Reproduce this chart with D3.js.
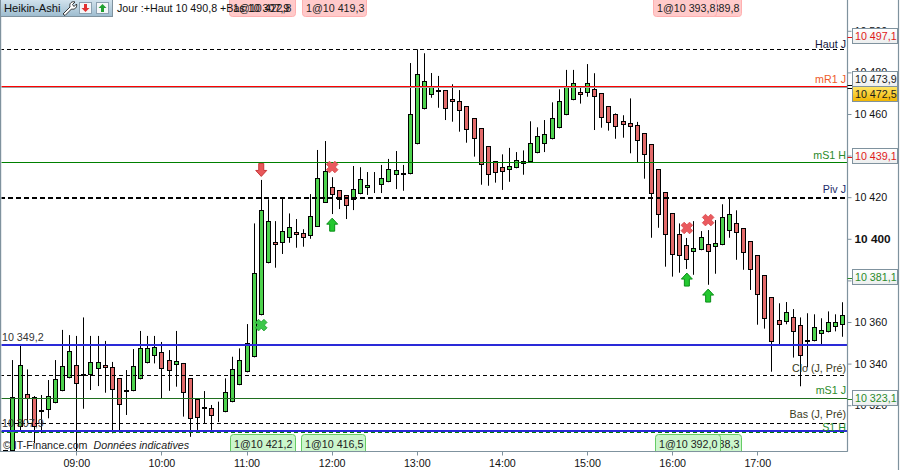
<!DOCTYPE html>
<html><head><meta charset="utf-8">
<script src="https://cdn.jsdelivr.net/npm/d3@7"></script>
<style>html,body{margin:0;padding:0;background:#fff}svg{display:block}text{font-family:"Liberation Sans",Arial,sans-serif}</style>
</head><body><div id="c"></div>
<script>
const startMinute = 490, stepMinutes = 5;
const opens = [10298.5,10298.1,10309.7,10325.2,10324.1,10317.5,10317.5,10320.9,10326.7,10332.9,10339.2,10334.8,10334.4,10337.5,10339.2,10338.2,10332.9,10326.2,10326.7,10332.4,10340.1,10343.5,10345.4,10341.6,10339.2,10340.1,10332.9,10322.8,10318.9,10318.5,10317.0,10316.6,10321.4,10329.6,10335.8,10343.0,10363.2,10388.2,10398.3,10397.8,10400.5,10403.1,10402.6,10401.5,10405.8,10417.3,10424.9,10423.3,10420.9,10418.5,10421.4,10424.6,10425.6,10425.7,10427.2,10430.5,10431.5,10431.0,10445.4,10462.2,10469.0,10471.5,10471.4,10467.1,10466.1,10463.7,10457.9,10453.1,10444.5,10437.2,10434.4,10432.9,10433.9,10435.8,10436.8,10441.1,10445.4,10447.8,10453.1,10459.4,10466.6,10470.4,10470.0,10471.9,10469.9,10463.7,10459.9,10456.5,10455.5,10454.6,10450.7,10445.4,10433.4,10422.3,10412.2,10402.2,10396.9,10393.5,10394.5,10397.3,10395.9,10396.9,10403.6,10407.4,10405.0,10398.8,10392.0,10382.4,10371.9,10360.8,10359.8,10362.2,10358.4,10351.2,10350.7,10354.1,10355.0,10357.4,10358.7];
const closes = [10293.6,10323.8,10339.2,10323.0,10309.7,10316.9,10324.5,10332.4,10338.7,10345.9,10330.0,10333.9,10340.6,10340.6,10337.7,10327.2,10320.0,10327.2,10338.7,10347.3,10347.3,10347.8,10337.2,10336.3,10341.1,10325.7,10313.2,10313.7,10318.4,10314.7,10316.5,10326.2,10337.2,10341.6,10349.7,10383.4,10413.7,10408.4,10397.2,10403.6,10405.5,10402.0,10400.5,10410.8,10429.1,10432.4,10421.2,10418.5,10415.9,10423.8,10428.6,10425.7,10425.1,10429.1,10433.4,10432.9,10430.5,10459.9,10479.1,10475.7,10473.6,10470.8,10462.5,10465.6,10461.3,10452.2,10447.8,10435.3,10430.5,10431.5,10432.0,10434.8,10437.7,10437.2,10445.9,10449.3,10450.2,10457.9,10466.1,10473.6,10474.8,10469.0,10474.8,10468.0,10457.9,10455.5,10453.6,10454.6,10453.6,10446.9,10440.1,10421.4,10411.3,10401.7,10392.1,10391.6,10389.7,10395.4,10400.7,10393.8,10397.8,10410.3,10411.8,10402.6,10393.0,10385.1,10372.8,10361.3,10350.2,10358.4,10364.7,10355.0,10343.5,10350.2,10357.4,10356.0,10359.8,10359.8,10363.2];
const highs = [10298.5,10341.7,10348.9,10337.2,10324.4,10324.9,10332.1,10341.7,10356.2,10353.7,10353.3,10362.2,10353.3,10353.3,10350.9,10340.8,10332.9,10336.9,10347.0,10355.7,10353.3,10353.3,10350.4,10346.5,10355.7,10340.3,10332.9,10323.4,10326.8,10320.1,10321.7,10332.9,10343.3,10347.3,10359.0,10407.4,10428.3,10419.0,10408.5,10419.5,10412.2,10409.5,10404.6,10421.5,10442.7,10447.0,10429.6,10423.3,10420.9,10435.0,10434.4,10432.1,10432.1,10435.5,10438.4,10442.2,10435.5,10484.5,10491.1,10489.2,10479.7,10478.3,10471.4,10474.3,10471.5,10463.7,10457.9,10453.1,10444.5,10437.2,10440.6,10443.7,10441.7,10442.5,10456.5,10453.6,10457.1,10465.6,10471.9,10481.2,10481.2,10473.1,10484.0,10479.6,10469.9,10463.7,10460.3,10459.4,10467.5,10456.2,10450.7,10445.4,10433.4,10422.3,10412.2,10407.4,10400.4,10408.5,10403.7,10404.2,10409.0,10416.6,10420.0,10413.7,10405.0,10398.8,10392.0,10382.4,10371.9,10369.0,10369.6,10366.2,10362.2,10364.2,10363.7,10361.8,10365.1,10363.7,10369.5];
const lows = [10291.2,10296.0,10307.6,10311.4,10301.8,10306.6,10313.7,10320.9,10326.7,10332.9,10297.5,10318.3,10327.3,10329.2,10326.0,10306.5,10307.2,10315.3,10326.7,10332.4,10340.1,10340.1,10323.4,10326.9,10328.9,10314.5,10304.8,10308.1,10311.4,10308.1,10311.9,10316.6,10321.4,10329.6,10335.8,10343.0,10363.2,10388.2,10386.1,10392.7,10398.1,10395.7,10396.2,10400.0,10405.8,10417.3,10411.9,10414.3,10409.5,10413.8,10421.4,10421.1,10422.0,10422.0,10427.2,10423.9,10423.1,10431.0,10445.4,10462.2,10467.8,10463.0,10457.1,10456.3,10451.5,10446.2,10439.5,10426.0,10425.5,10427.0,10423.5,10427.4,10433.9,10430.8,10436.8,10441.1,10441.7,10447.8,10453.1,10459.4,10466.6,10465.0,10468.3,10452.3,10453.4,10452.0,10448.1,10448.6,10441.1,10436.9,10428.9,10400.5,10405.3,10386.6,10381.8,10383.7,10385.5,10382.7,10394.5,10377.9,10383.2,10396.9,10400.5,10389.9,10385.1,10375.4,10358.7,10356.8,10336.1,10349.2,10358.9,10342.9,10329.1,10338.2,10350.7,10349.4,10355.0,10355.5,10352.9];

const levelValues = [10490.8,10473.2,10472.5,10436.9,10420,10349.2,10334.4,10323.1,10311.3,10307.2,10307.9];
const levelColors = ["#000","#ff0000","#a0a0a0","#008000","#000","#2a2ad8","#000","#1f6f1f","#000","#008000","#2a2ad8"];
const levelWidths = [1,1,1,1,2,2,1,1,1,2,2];
const levelDashes = ["4,3",null,null,null,"5,3",null,"4,3",null,"4,3","4,3",null];
const lineLabels = ["Haut J","mR1 J","mS1 H","Piv J","Clo (J, Pré)","mS1 J","Bas (J, Pré)","S1 H"];
const lineLabelY = [10493.5,10476.8,10440.3,10424,10337.8,10327.2,10315.6,10309.6];
const lineLabelColors = ["#14143c","#ee5a2a","#2a8a2a","#1a2a6a","#3a3a20","#2a8a2a","#3a3a20","#1a8a2a"];
const priceTicks = [10500,10480,10460,10440,10420,10400,10380,10360,10340,10320];
const timeTicks = [540,600,660,720,780,840,900,960,1020];
const tagValues = ["10 497,1","10 473,9","10 472,5","10 439,1","10 381,1","10 323,1"];
const tagPrices = [10497.1,10473.9,10472.5,10439.1,10381.1,10323.1];
const tagColors = ["#e01818","#1a1a1a","#1a1a1a","#e01818","#2a8a2a","#2a8a2a"];
const downArrowMinutes = [670], downArrowPrices = [10433.1];
const upArrowMinutes = [720,970,985], upArrowPrices = [10406.8,10380.4,10372.7];
const redCrossMinutes = [720,970,985], redCrossPrices = [10434.5,10405.2,10409.0];
const greenCrossMinutes = [670], greenCrossPrices = [10358.5];
const topTags = [["1@10 422,8",229,295],["1@10 419,3",302,366],["1@10 389,8",677,741],["1@10 393,8",653,716]];
const bottomTags = [["1@10 421,2",230,295],["1@10 416,5",301,365],["1@10 388,3",677,741],["1@10 392,0",655,720]];

const W=900,H=470,axisX=847.5,axisY=451.5;
const x=d3.scaleLinear().domain([540,1020]).range([76.3,757.3]);
const y=d3.scaleLinear().domain([10460,10340]).range([114,363.6]);
const svg=d3.select("#c").append("svg").attr("width",W).attr("height",H);
const defs=svg.append("defs");
defs.append("clipPath").attr("id","plot").append("rect").attr("x",1.5).attr("y",0).attr("width",axisX-1.5).attr("height",axisY);
function grad(id,a,b){const g=defs.append("linearGradient").attr("id",id).attr("x1",0).attr("y1",0).attr("x2",0).attr("y2",1);g.append("stop").attr("offset",0).attr("stop-color",a);g.append("stop").attr("offset",1).attr("stop-color",b);}
grad("gold","#ffe668","#f0b400");grad("tag","#ffffff","#eceeee");grad("head","#d4e4ee","#9dbccf");

const font=10.7, gridC="#7f929e";
const plot=svg.append("g").attr("clip-path","url(#plot)");
const candles=d3.range(opens.length).map(i=>({m:startMinute+i*stepMinutes,o:opens[i],c:closes[i],h:highs[i],l:lows[i]}));
const cx=d=>Math.round(x(d.m))+0.5;
const rows=plot.selectAll("g.c").data(candles).join("g").attr("class","c");
rows.append("line").attr("x1",cx).attr("x2",cx).attr("y1",d=>y(d.h)).attr("y2",d=>y(d.l)).attr("stroke","#000");
rows.append("rect").attr("x",d=>cx(d)-2).attr("width",4)
 .attr("y",d=>Math.round(y(Math.max(d.o,d.c)))+0.5)
 .attr("height",d=>Math.max(0,Math.round(y(Math.min(d.o,d.c)))-Math.round(y(Math.max(d.o,d.c)))-1))
 .attr("fill",d=>d.c>=d.o?"#4dd24d":"#e26a6a").attr("stroke","#000");

const snap=(v,i)=>levelWidths[i]===2?Math.round(y(v)+0.3):Math.floor(y(v))+0.5;
plot.selectAll("line.lv").data(levelValues).join("line").attr("class","lv")
 .attr("x1",0).attr("x2",axisX).attr("y1",snap).attr("y2",snap)
 .attr("stroke",(d,i)=>levelColors[i]).attr("stroke-width",(d,i)=>levelWidths[i]).attr("stroke-dasharray",(d,i)=>levelDashes[i]);

svg.append("g").selectAll("text").data(lineLabels).join("text")
 .attr("x",846).attr("y",(d,i)=>y(lineLabelY[i])+4).attr("text-anchor","end").attr("font-size",font)
 .attr("fill",(d,i)=>lineLabelColors[i]).text(d=>d);

const leftLab=svg.append("g").attr("font-size",font).attr("fill","#333");
leftLab.append("text").attr("x",2).attr("y",y(10349.2)-3).text("10 349,2");
leftLab.append("text").attr("x",2).attr("y",y(10307.9)-3).text("10 307,9");

// markers
const arrow="M0,-6.5 L5.5,-0.5 L2.5,-0.5 L2.5,6.5 L-2.5,6.5 L-2.5,-0.5 L-5.5,-0.5 Z";
const mk=svg.append("g");
function arrows(ms,ps,rot,fill,stroke){mk.selectAll(null).data(ms).join("path").attr("d",arrow).attr("fill",fill).attr("stroke",stroke)
 .attr("transform",(d,i)=>`translate(${x(d)+0.5},${y(ps[i])}) rotate(${rot})`);}
arrows(downArrowMinutes,downArrowPrices,180,"#e8585a","#c8383a");
arrows(upArrowMinutes,upArrowPrices,0,"#24c830","#0a8f18");
function crosses(ms,ps,fill,stroke){ms.forEach((m,i)=>{const g=mk.append("g").attr("transform",`translate(${x(m)+0.5},${y(ps[i])}) rotate(45)`);
 g.append("path").attr("d","M-2.2,-6H2.2V-2.2H6V2.2H2.2V6H-2.2V2.2H-6V-2.2H-2.2Z").attr("fill",fill).attr("stroke",stroke).attr("stroke-width",0.8).attr("stroke-linejoin","round");});}
crosses(redCrossMinutes,redCrossPrices,"#ea5a5e","#d84a4e");
crosses(greenCrossMinutes,greenCrossPrices,"#3cc84a","#20a030");

// borders
const frame=svg.append("g").attr("stroke",gridC).attr("stroke-width",1.2);
frame.append("line").attr("x1",0.6).attr("x2",0.6).attr("y1",0).attr("y2",axisY);
frame.append("line").attr("x1",898.5).attr("x2",898.5).attr("y1",0).attr("y2",H);

// axes
const xAxis=d3.axisBottom(x).tickValues(timeTicks).tickSize(4).tickPadding(4)
 .tickFormat(m=>d3.format("02d")(Math.floor(m/60))+":"+d3.format("02d")(m%60));
const gx=svg.append("g").attr("transform",`translate(0,${axisY})`).call(xAxis);
gx.select(".domain").attr("d",`M0,0H${axisX}`).attr("stroke",gridC).attr("stroke-width",1.2);
gx.selectAll(".tick line").attr("stroke",gridC);
gx.selectAll(".tick text").attr("font-size",font).attr("font-family","Liberation Sans").attr("fill","#111");

const yAxis=d3.axisRight(y).tickValues(priceTicks).tickSize(4).tickPadding(3)
 .tickFormat(v=>d3.format("d")(Math.floor(v/1000))+" "+d3.format("03d")(v%1000));
const gy=svg.append("g").attr("transform",`translate(${axisX},0)`).call(yAxis);
gy.select(".domain").attr("d",`M0,0V${axisY}`).attr("stroke",gridC).attr("stroke-width",1.2);
gy.selectAll(".tick line").attr("stroke",gridC);
gy.selectAll(".tick text").attr("font-size",d=>d===10400?11.8:font).attr("font-family","Liberation Sans").attr("fill","#111")
 .attr("font-weight",d=>d===10400?"bold":"normal");

// value tags
const tagTop=(p,i)=>i===1?Math.round(y(tagPrices[2]))-16.5:i===2?Math.round(y(p))-1.5:Math.round(y(p))-8.5;
const tg=svg.append("g").selectAll("g").data(tagValues).join("g").attr("transform",(d,i)=>`translate(852.5,${tagTop(tagPrices[i],i)})`);
tg.append("rect").attr("width",45).attr("height",15).attr("fill",(d,i)=>i==2?"url(#gold)":"url(#tag)").attr("stroke",gridC);
tg.append("text").attr("x",2.5).attr("y",11.5).attr("font-size",font).attr("fill",(d,i)=>tagColors[i]).text(d=>d);
svg.append("g").selectAll("line").data(tagPrices).join("line").attr("x1",axisX).attr("x2",852).attr("y1",d=>Math.round(y(d))+.5).attr("y2",d=>Math.round(y(d))+.5)
 .attr("stroke",(d,i)=>tagColors[i]=="#1a1a1a"?"#000":tagColors[i]);

// header
const head=svg.append("g");
head.append("rect").attr("x",0.5).attr("y",-1).attr("width",112).attr("height",17.5).attr("fill","url(#head)").attr("stroke",gridC);
head.append("text").attr("x",4).attr("y",12).attr("font-size",11.2).attr("fill","#111").text("Heikin-Ashi");
head.append("path").attr("d","M63,14 L70,7 C69,3 72,1 75,2 L72.5,4.5 L74,6.5 L76.5,4 C77.5,7 75,10 71.5,9 L65,15.5 Z").attr("fill","#fff").attr("stroke","#222").attr("stroke-width",0.9);
[[79.5,"#e23030",180],[96.5,"#20a030",0]].forEach(([ix,c,r])=>{
 head.append("rect").attr("x",ix).attr("y",2.5).attr("width",12).attr("height",11).attr("fill","#f4f6f8").attr("stroke","#8ba0b0");
 head.append("path").attr("d","M0,-4 L4,0 L1.5,0 L1.5,4 L-1.5,4 L-1.5,0 L-4,0 Z").attr("fill",c).attr("transform",`translate(${ix+6},8) rotate(${r})`);});

function tagBox(list,top,h,baseline,fill,stroke){const g=svg.append("g");list.forEach(t=>{
 g.append("rect").attr("x",t[1]+.5).attr("y",top).attr("width",t[2]-t[1]).attr("height",h).attr("rx",3).attr("fill",fill).attr("stroke",stroke);
 g.append("text").attr("x",t[1]+4).attr("y",baseline).attr("font-size",font).attr("fill","#222").text(t[0]);});}
tagBox(topTags,-4,20.5,12,"#ffcaca","#ffb0b0");
svg.append("text").attr("x",117).attr("y",12).attr("font-size",font).attr("fill","#111").text("Jour :+Haut 10 490,8 +Bas 10 307,9");
tagBox(bottomTags,434.5,20,447.5,"#ccf6cc","#66cc66");
svg.append("rect").attr("x",0).attr("y",axisY+0.6).attr("width",847).attr("height",5).attr("fill","#fff");
svg.append("g").attr("transform",`translate(0,${axisY})`).selectAll("line").data(timeTicks).join("line")
 .attr("x1",d=>Math.round(x(d))+.5).attr("x2",d=>Math.round(x(d))+.5).attr("y1",0).attr("y2",4).attr("stroke",gridC);

const wm=svg.append("text").attr("x",3).attr("y",449).attr("font-size",font).attr("fill","#222");
wm.append("tspan").text("© IT-Finance.com  ");
wm.append("tspan").attr("font-style","italic").attr("dx",3).text("Données indicatives");
// bottom line above the tags
svg.append("line").attr("x1",0).attr("x2",axisX).attr("y1",axisY).attr("y2",axisY).attr("stroke",gridC).attr("stroke-width",1.2);
</script></body></html>
